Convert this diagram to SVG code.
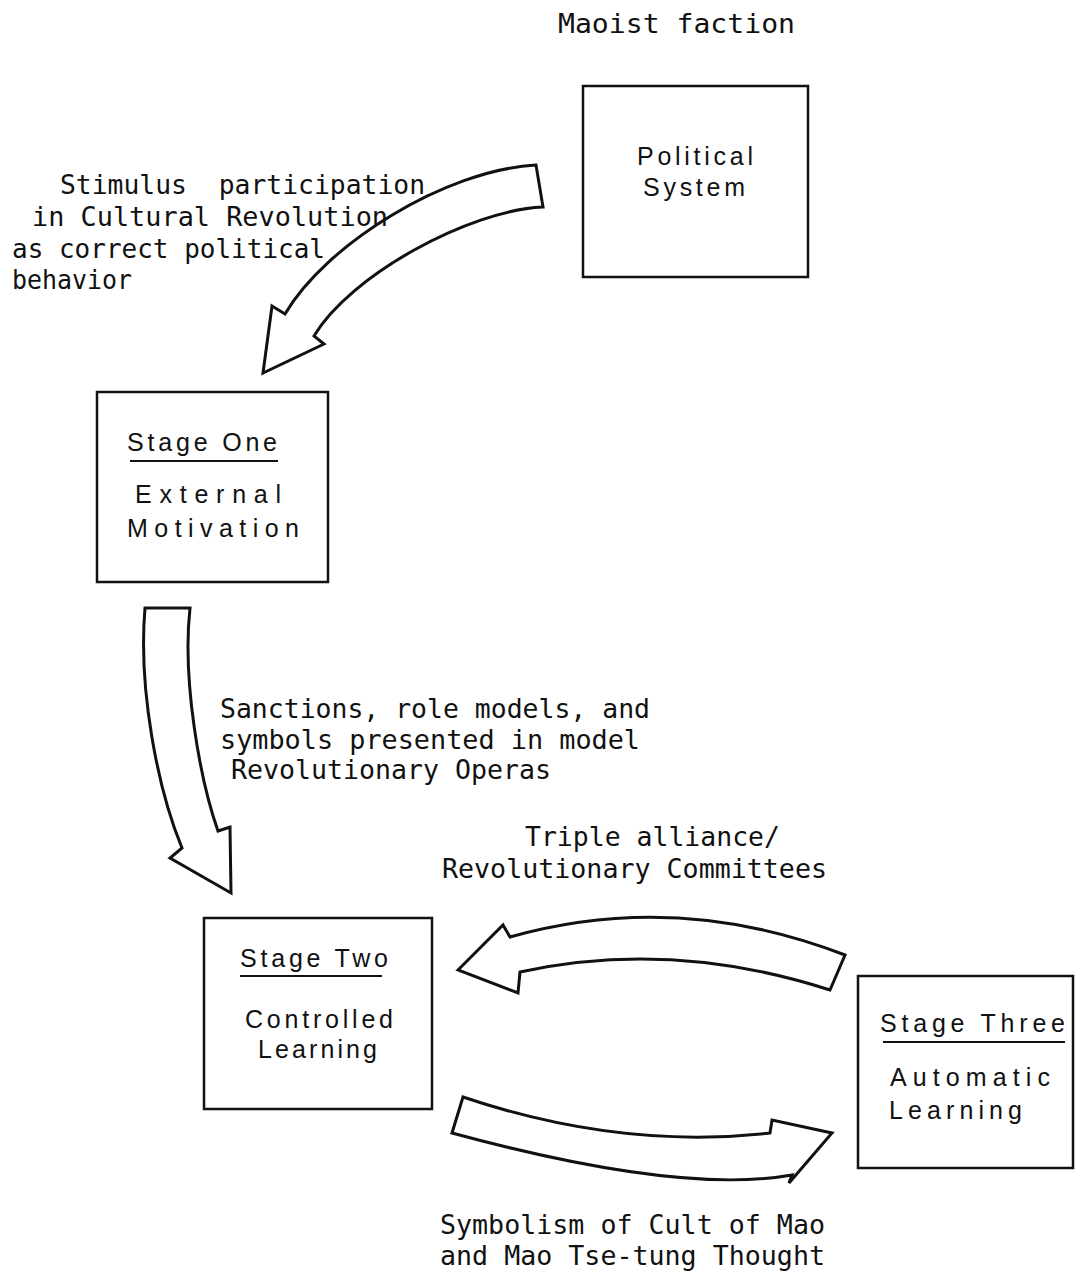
<svg xmlns="http://www.w3.org/2000/svg" width="1075" height="1272" viewBox="0 0 1075 1272">
  <style>
    .box { fill: #fff; stroke: #111; stroke-width: 2.5; }
    .rule { stroke: #111; stroke-width: 2; }
    .arrow { fill: #fff; stroke: #111; stroke-width: 3; stroke-linejoin: miter; }
    .mono { font-family: "DejaVu Sans Mono", "Liberation Mono", monospace; font-size: 27px; fill: #111; }
    .sans { font-family: "Liberation Sans", Arial, sans-serif; font-size: 25px; fill: #111; }
  </style>
  <rect width="1075" height="1272" fill="#fff"/>

  <!-- block arrows between the stages -->
  <g id="connectors">
    <path id="arrow-system-to-one" class="arrow"
          d="M536,165 C445,170 325,245 285,314 L272,306 L263,373 L324,344 L314,336 C350,275 470,210 543,207 Z"/>
    <path id="arrow-one-to-two" class="arrow"
          d="M145,608 C138,690 158,790 182,848 L170,858 L231,893 L230,827 L218,831 C200,780 182,680 190,608 Z"/>
    <path id="arrow-three-to-two" class="arrow"
          d="M458,970 L503,925 L510,937 Q677,890 845,955 L830,990 Q672,939 520,972 L518,993 Z"/>
    <path id="arrow-two-to-three" class="arrow"
          d="M463,1097 Q620,1150 770,1133 L772,1120 L832,1133 L789,1183 L792,1175 Q680,1195 452,1133 Z"/>

    <g id="connector-labels" class="mono">
      <text x="60" y="194" textLength="365" lengthAdjust="spacingAndGlyphs" xml:space="preserve">Stimulus  participation</text>
      <text x="32" y="226" textLength="356" lengthAdjust="spacingAndGlyphs">in Cultural Revolution</text>
      <text x="12" y="258" textLength="313" lengthAdjust="spacingAndGlyphs">as correct political</text>
      <text x="12" y="289" textLength="120" lengthAdjust="spacingAndGlyphs">behavior</text>

      <text x="220" y="718" textLength="430" lengthAdjust="spacingAndGlyphs">Sanctions, role models, and</text>
      <text x="220" y="749" textLength="420" lengthAdjust="spacingAndGlyphs">symbols presented in model</text>
      <text x="231" y="779" textLength="320" lengthAdjust="spacingAndGlyphs">Revolutionary Operas</text>

      <text x="525" y="846" textLength="255" lengthAdjust="spacingAndGlyphs">Triple alliance/</text>
      <text x="442" y="878" textLength="385" lengthAdjust="spacingAndGlyphs">Revolutionary Committees</text>

      <text x="440" y="1234" textLength="385" lengthAdjust="spacingAndGlyphs">Symbolism of Cult of Mao</text>
      <text x="440" y="1265" textLength="385" lengthAdjust="spacingAndGlyphs">and Mao Tse-tung Thought</text>
    </g>
  </g>

  <!-- political system, driven by the Maoist faction -->
  <g id="political-system">
    <text class="mono" x="558" y="33" textLength="237" lengthAdjust="spacingAndGlyphs">Maoist faction</text>
    <rect class="box" x="583" y="86" width="225" height="191"/>
    <text class="sans" x="637" y="165" textLength="116" lengthAdjust="spacing">Political</text>
    <text class="sans" x="643" y="196" textLength="102" lengthAdjust="spacing">System</text>
  </g>

  <g id="stage-one">
    <rect class="box" x="97" y="392" width="231" height="190"/>
    <text class="sans" x="127" y="451" textLength="150" lengthAdjust="spacing">Stage One</text>
    <line class="rule" x1="130" y1="461" x2="278" y2="461"/>
    <text class="sans" x="135" y="503" textLength="146" lengthAdjust="spacing">External</text>
    <text class="sans" x="127" y="537" textLength="172" lengthAdjust="spacing">Motivation</text>
  </g>

  <g id="stage-two">
    <rect class="box" x="204" y="918" width="228" height="191"/>
    <text class="sans" x="240" y="967" textLength="148" lengthAdjust="spacing">Stage Two</text>
    <line class="rule" x1="240" y1="976" x2="382" y2="976"/>
    <text class="sans" x="245" y="1028" textLength="148" lengthAdjust="spacing">Controlled</text>
    <text class="sans" x="258" y="1058" textLength="119" lengthAdjust="spacing">Learning</text>
  </g>

  <g id="stage-three">
    <rect class="box" x="858" y="976" width="215" height="192"/>
    <text class="sans" x="880" y="1032" textLength="185" lengthAdjust="spacing">Stage Three</text>
    <line class="rule" x1="883" y1="1042" x2="1065" y2="1042"/>
    <text class="sans" x="890" y="1086" textLength="160" lengthAdjust="spacing">Automatic</text>
    <text class="sans" x="889" y="1119" textLength="133" lengthAdjust="spacing">Learning</text>
  </g>
</svg>
